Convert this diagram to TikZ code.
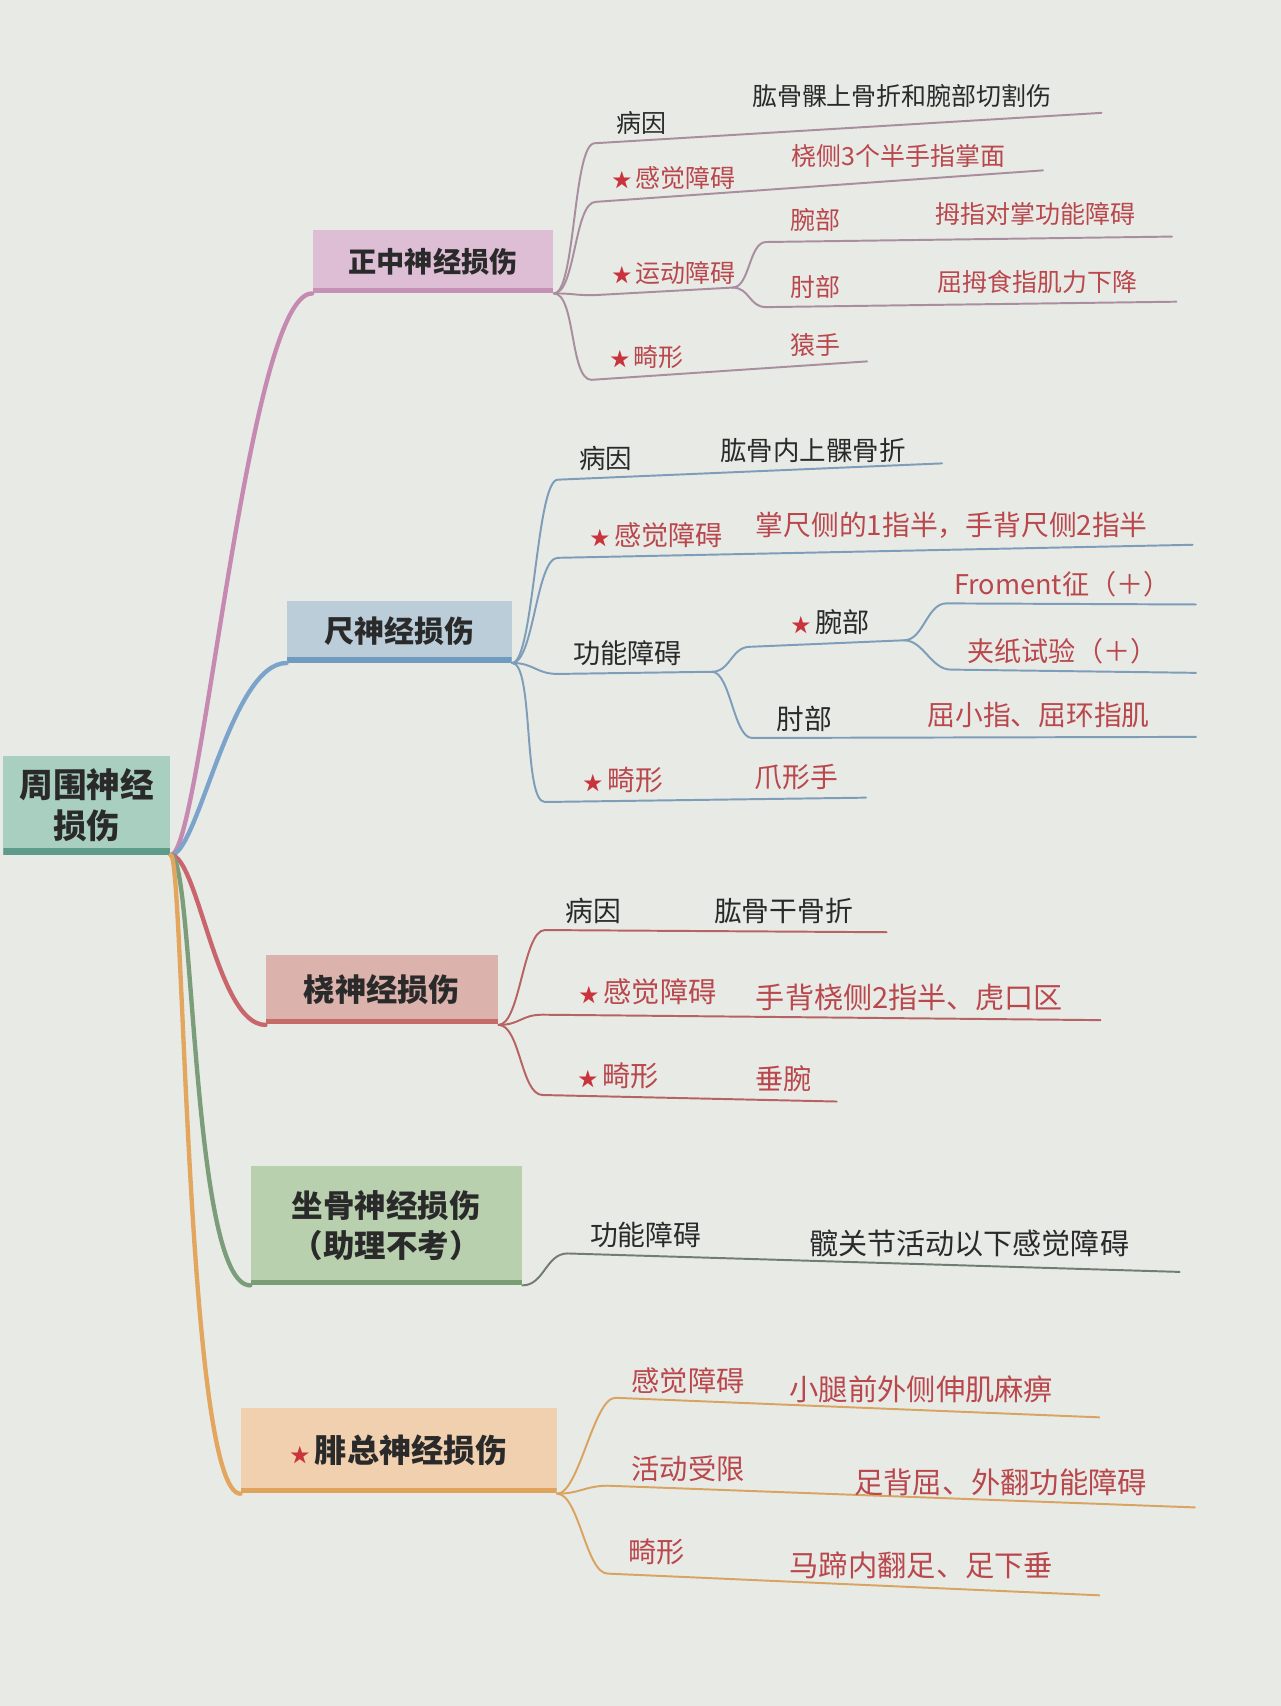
\documentclass[tikz,border=0pt]{standalone}
\usepackage{fontspec}
\setmainfont{Noto Sans CJK SC}
\usepackage{tikz}
\definecolor{paper}{HTML}{E8EAE6}
\definecolor{ink}{HTML}{2A2A2A}
\definecolor{redtext}{HTML}{B9474C}
\definecolor{starred}{HTML}{C8333C}
\definecolor{hubfill}{HTML}{A9CFC1}
\definecolor{hubbar}{HTML}{5E9B8B}
\definecolor{zfill}{HTML}{DDBED5}
\definecolor{zbar}{HTML}{C592B5}
\definecolor{ztrunk}{HTML}{C68AB2}
\definecolor{ztwig}{HTML}{A98E9F}
\definecolor{cfill}{HTML}{BACDD9}
\definecolor{cbar}{HTML}{6F9BBE}
\definecolor{ctrunk}{HTML}{7CA4CA}
\definecolor{ctwig}{HTML}{7E9DB9}
\definecolor{rfill}{HTML}{DCB3AC}
\definecolor{rbar}{HTML}{C66C68}
\definecolor{rtrunk}{HTML}{C9666B}
\definecolor{rtwig}{HTML}{B86363}
\definecolor{sfill}{HTML}{B9D0AF}
\definecolor{sbar}{HTML}{7A9E74}
\definecolor{strunk}{HTML}{7B9D79}
\definecolor{stwig}{HTML}{6F7E71}
\definecolor{ffill}{HTML}{F0D0AF}
\definecolor{fbar}{HTML}{DFA35C}
\definecolor{ftrunk}{HTML}{E3A65F}
\definecolor{ftwig}{HTML}{D9A461}
\newcommand\kp{{\color{starred}\fontsize{9}{10}\selectfont ★}\,}
\tikzset{hub/.style={fill=hubfill,minimum width=77pt,minimum height=45.5pt,inner sep=0pt,align=center,text=ink,font=\fontsize{15.5}{19}\selectfont\bfseries,path picture={\fill[hubbar] (path picture bounding box.south west) rectangle ([yshift=3pt]path picture bounding box.south east);}}}
\tikzset{nerve/.style n args={3}{fill=#1,inner sep=0pt,align=center,text=ink,font=\fontsize{#3}{18.5}\selectfont\bfseries,path picture={\fill[#2] (path picture bounding box.south west) rectangle ([yshift=2.5pt]path picture bounding box.south east);}}}
\tikzset{word/.style={inner sep=0pt,text=ink,font=\fontsize{#1}{#1}\selectfont},word/.default=11.5}
\tikzset{redword/.style={word=#1,text=redtext},redword/.default=11.5}
\tikzset{trunk/.style={line width=2pt,line cap=round}}
\tikzset{twig/.style={line width=0.9pt,line cap=round}}
\tikzset{fork/.style={to path={.. controls +(#1,0) and +(-#1,0) .. (\tikztotarget)}},fork/.default=20}

\begin{document}
\begin{tikzpicture}[x=0.5pt,y=-0.5pt]
    \fill[paper] (0,0) rectangle (1180,1572);
    \node[hub] (root) at (80,742) {周围神经\\损伤};
    \node[nerve={zfill}{zbar}{13},minimum width=111pt,minimum height=29pt] (zz) at (399,241) {正中神经损伤};
    \node[nerve={cfill}{cbar}{13.8},minimum width=103.5pt,minimum height=28.5pt] (cc) at (368,582) {尺神经损伤};
    \node[nerve={rfill}{rbar}{14.4},minimum width=107pt,minimum height=32pt] (rr) at (352,912) {桡神经损伤};
    \node[nerve={sfill}{sbar}{14.5},minimum width=125pt,minimum height=55pt] (ss) at (356,1129) {坐骨神经损伤\\（助理不考）};
    \node[nerve={ffill}{fbar}{14.8},minimum width=145.5pt,minimum height=39.5pt] (ff) at (367.5,1336.5) {\kp 腓总神经损伤};
    \draw[trunk,ztrunk] (root.south east) .. controls +(28,0) and +(-60,0) .. (zz.south west);
    \draw[trunk,ctrunk] (root.south east) .. controls +(25,0) and +(-52,0) .. (cc.south west);
    \draw[trunk,rtrunk] (root.south east) .. controls +(25,0) and +(-45,0) .. (rr.south west);
    \draw[trunk,strunk] (root.south east) .. controls +(22,0) and +(-55,0) .. (ss.south west);
    \draw[trunk,ftrunk] (root.south east) .. controls +(12,0) and +(-50,0) .. (ff.south west);

    \coordinate (z1) at (548,132); \coordinate (z1e) at (1015,104);
    \draw[twig,ztwig] (zz.south east) to[fork] (z1) -- (z1e);
    \node[word] (zbing) at (591,113) {病因};
    \node[word] (zbingv) at (831,88) {肱骨髁上骨折和腕部切割伤};
    \coordinate (z2) at (549,186); \coordinate (z2e) at (961,157);
    \draw[twig,ztwig] (zz.south east) to[fork] (z2) -- (z2e);
    \node[redword] (zgan) at (621,164) {\kp 感觉障碍};
    \node[redword] (zganv) at (828,144) {桡侧3个半手指掌面};
    \coordinate (z3) at (547,272); \coordinate (z3e) at (675,265);
    \draw[twig,ztwig] (zz.south east) to[fork] (z3) -- (z3e);
    \node[redword] (zyun) at (621,252) {\kp 运动障碍};
    \coordinate (z31) at (706,223); \coordinate (z31e) at (1080,218);
    \draw[twig,ztwig] (z3e) to[fork=16] (z31) -- (z31e);
    \node[redword] (zwan) at (751,203) {腕部};
    \node[redword] (zwanv) at (954,197) {拇指对掌功能障碍};
    \coordinate (z32) at (706,283); \coordinate (z32e) at (1084,278);
    \draw[twig,ztwig] (z3e) to[fork=16] (z32) -- (z32e);
    \node[redword] (zzhou) at (751,264) {肘部};
    \node[redword] (zzhouv) at (956,260) {屈拇食指肌力下降};
    \coordinate (z4) at (545,350); \coordinate (z4e) at (799,333);
    \draw[twig,ztwig] (zz.south east) to[fork] (z4) -- (z4e);
    \node[redword] (zji) at (596,329) {\kp 畸形};
    \node[redword] (zjiv) at (751,318) {猿手};

    \coordinate (c1) at (514,442); \coordinate (c1e) at (868,427);
    \draw[twig,ctwig] (cc.south east) to[fork] (c1) -- (c1e);
    \node[word=12.2] (cbing) at (558,422) {病因};
    \node[word=12.2] (cbingv) at (749,415) {肱骨内上髁骨折};
    \coordinate (c2) at (514,514); \coordinate (c2e) at (1099,502);
    \draw[twig,ctwig] (cc.south east) to[fork] (c2) -- (c2e);
    \node[redword=12.5] (cgan) at (605,493) {\kp 感觉障碍};
    \node[redword=12.8] (cganv) at (877,484) {掌尺侧的1指半，手背尺侧2指半};
    \coordinate (c3) at (514,621); \coordinate (c3e) at (656,619);
    \draw[twig,ctwig] (cc.south east) to[fork] (c3) -- (c3e);
    \node[word=12.5] (cgong) at (578,602) {功能障碍};
    \coordinate (c31) at (691,596); \coordinate (c31e) at (833,590);
    \draw[twig,ctwig] (c3e) to[fork=17] (c31) -- (c31e);
    \node[word=12.5] (cwan) at (765,573) {\kp 腕部};
    \coordinate (c311) at (872,556); \coordinate (c311e) at (1102,557);
    \draw[twig,ctwig] (c31e) to[fork=18] (c311) -- (c311e);
    \node[redword=12.5] (cfro) at (979,538) {Froment征（＋）};
    \coordinate (c312) at (876,617); \coordinate (c312e) at (1102,620);
    \draw[twig,ctwig] (c31e) to[fork=18] (c312) -- (c312e);
    \node[redword=12.5] (cjia) at (979,600) {夹纸试验（＋）};
    \coordinate (c32) at (693,680); \coordinate (c32e) at (1102,679);
    \draw[twig,ctwig] (c3e) to[fork=17] (c32) -- (c32e);
    \node[word=12.8] (czhou) at (741,662) {肘部};
    \node[redword=12.8] (czhouv) at (957,659) {屈小指、屈环指肌};
    \coordinate (c4) at (502,739); \coordinate (c4e) at (798,735);
    \draw[twig,ctwig] (cc.south east) to[fork] (c4) -- (c4e);
    \node[redword=12.8] (cji) at (574,719) {\kp 畸形};
    \node[redword=12.8] (cjiv) at (734,716) {爪形手};

    \coordinate (r1) at (502,857); \coordinate (r1e) at (817,859);
    \draw[twig,rtwig] (rr.south east) to[fork] (r1) -- (r1e);
    \node[word=12.8] (rbing) at (547,839) {病因};
    \node[word=12.8] (rbingv) at (722,839) {肱骨干骨折};
    \coordinate (r2) at (500,935); \coordinate (r2e) at (1014,940);
    \draw[twig,rtwig] (rr.south east) to[fork] (r2) -- (r2e);
    \node[redword=13] (rgan) at (597,914) {\kp 感觉障碍};
    \node[redword=13.4] (rganv) at (838,919) {手背桡侧2指半、虎口区};
    \coordinate (r3) at (500,1009); \coordinate (r3e) at (771,1015);
    \draw[twig,rtwig] (rr.south east) to[fork] (r3) -- (r3e);
    \node[redword=13] (rji) at (570,991) {\kp 畸形};
    \node[redword=13] (rjiv) at (722,994) {垂腕};

    \coordinate (s1) at (523,1155); \coordinate (s1e) at (1087,1172);
    \draw[twig,stwig] (ss.south east) to[fork] (s1) -- (s1e);
    \node[word=12.8] (sgong) at (595,1138) {功能障碍};
    \node[word=13.4] (sgongv) at (893,1146) {髋关节活动以下感觉障碍};

    \coordinate (f1) at (567,1288); \coordinate (f1e) at (1013,1306);
    \draw[twig,ftwig] (ff.south east) to[fork] (f1) -- (f1e);
    \node[redword=13] (fgan) at (634,1272) {感觉障碍};
    \node[redword=13.5] (fganv) at (849,1280) {小腿前外侧伸肌麻痹};
    \coordinate (f2) at (560,1369); \coordinate (f2e) at (1101,1389);
    \draw[twig,ftwig] (ff.south east) to[fork] (f2) -- (f2e);
    \node[redword=13] (fhuo) at (634,1353) {活动受限};
    \node[redword=13.5] (fhuov) at (922,1366) {足背屈、外翻功能障碍};
    \coordinate (f3) at (560,1450); \coordinate (f3e) at (1013,1470);
    \draw[twig,ftwig] (ff.south east) to[fork] (f3) -- (f3e);
    \node[redword=13] (fji) at (605,1430) {畸形};
    \node[redword=13.5] (fjiv) at (849,1442) {马蹄内翻足、足下垂};
\end{tikzpicture}
\end{document}
